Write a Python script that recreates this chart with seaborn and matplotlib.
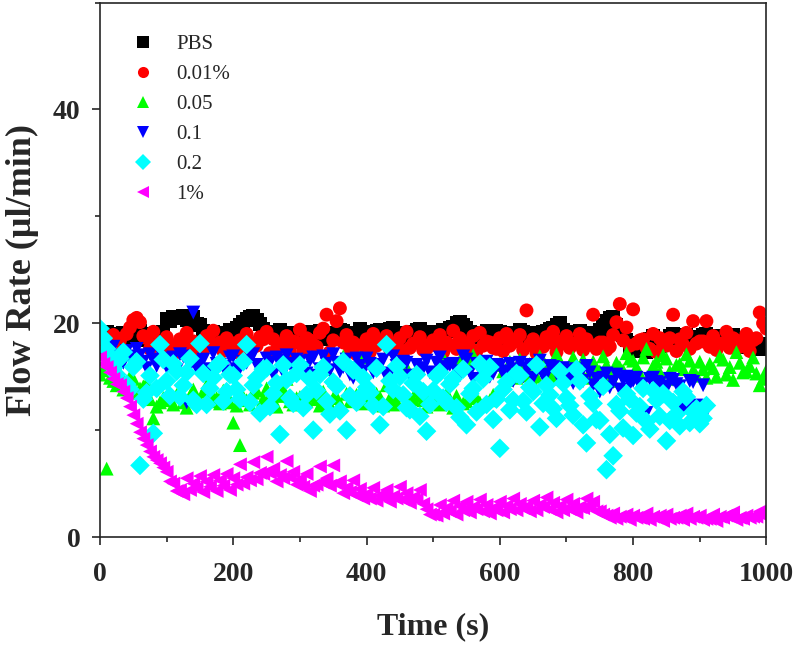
import pandas as pd
import matplotlib
matplotlib.use("Agg")
import matplotlib.pyplot as plt
from matplotlib.ticker import MultipleLocator
import seaborn as sns

sns.set_style("ticks")
plt.rcParams["font.family"] = ["Liberation Serif", "DejaVu Serif"]

# readings on the 10 s marks
time_s = [0, 10, 20, 30, 40, 50, 60, 70, 80, 90,
          100, 110, 120, 130, 140, 150, 160, 170, 180, 190,
          200, 210, 220, 230, 240, 250, 260, 270, 280, 290,
          300, 310, 320, 330, 340, 350, 360, 370, 380, 390,
          400, 410, 420, 430, 440, 450, 460, 470, 480, 490,
          500, 510, 520, 530, 540, 550, 560, 570, 580, 590,
          600, 610, 620, 630, 640, 650, 660, 670, 680, 690,
          700, 710, 720, 730, 740, 750, 760, 770, 780, 790,
          800, 810, 820, 830, 840, 850, 860, 870, 880, 890,
          900, 910, 920, 930, 940, 950, 960, 970, 980, 990, 1000]
# readings in between (x5 s)
time_b = [5, 15, 25, 35, 45, 55, 65, 75, 85, 95,
          105, 115, 125, 135, 145, 155, 165, 175, 185, 195,
          205, 215, 225, 235, 245, 255, 265, 275, 285, 295,
          305, 315, 325, 335, 345, 355, 365, 375, 385, 395,
          405, 415, 425, 435, 445, 455, 465, 475, 485, 495,
          505, 515, 525, 535, 545, 555, 565, 575, 585, 595,
          605, 615, 625, 635, 645, 655, 665, 675, 685, 695,
          705, 715, 725, 735, 745, 755, 765, 775, 785, 795,
          805, 815, 825, 835, 845, 855, 865, 875, 885, 895,
          905, 915, 925, 935, 945, 955, 965, 975, 985, 995]

labels = ["PBS", "0.01%", "0.05", "0.1", "0.2", "1%"]
colors = ["#000000", "#ff0000", "#00ff00", "#0000ff", "#00ffff", "#ff00ff"]
markers = ["s", "o", "^", "v", "D", "<"]

pbs = [18.9, 19.2, 18.4, 18.8, 19.0, 18.6, 19.3, 18.7, 18.9, 19.1,
       20.4, 20.6, 20.5, 20.3, 20.6, 19.8, 18.9, 19.2, 18.7, 19.0,
       19.3, 19.8, 20.4, 20.7, 19.9, 19.1, 18.8, 19.4, 18.6, 19.0,
       18.7, 19.2, 18.9, 19.3, 18.5, 19.0, 19.4, 18.8, 19.1, 19.5,
       19.0, 18.7, 19.4, 18.9, 19.6, 19.0, 18.6, 19.2, 19.5, 18.9,
       19.1, 18.8, 19.3, 19.7, 20.1, 19.6, 19.0, 18.7, 19.3, 18.9,
       19.2, 18.6, 19.0, 19.4, 18.8, 19.1, 18.7, 19.3, 19.6, 20.0,
       19.1, 18.8, 19.3, 18.6, 19.0, 19.4, 20.2, 20.6, 19.2, 18.4,
       17.6, 18.2, 17.3, 18.8, 17.9, 18.5, 19.0, 18.6, 18.9, 18.3,
       18.7, 19.0, 18.4, 18.8, 18.2, 18.9, 18.5, 17.8, 18.3, 17.6, 18.1]
pbs_b = [18.6, 19.0, 18.5, 19.1, 18.8, 19.3, 18.4, 19.0, 18.7, 19.2,
         20.2, 20.5, 20.7, 20.4, 19.9, 19.3, 18.8, 19.1, 18.9, 19.4,
         19.6, 20.1, 20.6, 20.3, 19.5, 18.9, 19.2, 18.7, 19.1, 18.8,
         19.0, 18.6, 19.2, 18.8, 19.1, 18.7, 19.3, 19.0, 18.6, 19.2,
         18.8, 19.3, 19.0, 19.5, 18.7, 19.1, 18.9, 19.4, 18.8, 19.2,
         18.9, 19.4, 19.6, 20.0, 19.8, 19.2, 18.9, 19.1, 18.8, 19.3,
         18.9, 19.1, 18.7, 19.2, 19.0, 18.8, 19.2, 19.5, 19.8, 19.4,
         18.9, 19.2, 18.8, 19.1, 18.7, 19.8, 20.5, 19.8, 18.9, 17.9,
         17.4, 17.9, 18.5, 17.6, 18.3, 18.8, 18.4, 18.7, 18.1, 18.6,
         18.9, 18.6, 18.2, 18.5, 18.7, 18.3, 17.9, 18.0, 17.7, 17.9]

c001 = [17.6, 18.2, 18.9, 18.4, 19.0, 20.3, 20.1, 18.6, 19.2, 18.1,
        18.7, 17.9, 18.5, 19.1, 18.3, 17.6, 18.8, 19.3, 18.2, 18.6,
        17.8, 18.4, 19.0, 18.1, 18.7, 19.2, 18.5, 17.9, 18.8, 18.3,
        19.4, 18.6, 18.0, 19.1, 20.8, 18.4, 21.4, 18.9, 18.2, 17.7,
        18.5, 19.0, 18.3, 18.8, 17.8, 18.6, 19.2, 18.1, 18.7, 17.6,
        18.4, 18.9, 18.2, 19.3, 18.6, 18.0, 18.8, 19.1, 18.3, 17.7,
        18.6, 19.0, 18.4, 18.9, 21.2, 18.5, 17.9, 18.7, 19.2, 18.3,
        18.8, 18.1, 19.0, 18.5, 20.8, 18.2, 17.5, 18.9, 21.8, 19.6,
        21.3, 18.4, 17.7, 19.0, 18.6, 17.9, 20.8, 18.5, 19.1, 20.2,
        18.3, 20.2, 18.8, 18.1, 19.2, 18.6, 17.8, 19.0, 18.4, 21.0, 19.5]
c001_b = [17.4, 17.9, 18.6, 17.5, 19.6, 20.5, 18.8, 17.6, 18.0, 17.2,
          17.6, 17.3, 18.2, 17.8, 17.1, 17.5, 18.3, 17.9, 17.4, 18.2,
          17.3, 18.0, 17.6, 17.9, 18.5, 17.2, 17.5, 18.1, 17.3, 18.2,
          17.5, 18.4, 17.8, 19.5, 17.3, 20.2, 18.2, 17.7, 17.1, 18.0,
          17.3, 17.9, 18.3, 17.6, 18.1, 17.4, 17.7, 18.2, 17.5, 18.0,
          17.9, 17.3, 18.0, 17.6, 18.2, 17.7, 17.4, 17.9, 18.2, 17.6,
          17.4, 17.9, 18.3, 17.5, 18.0, 17.2, 17.8, 18.2, 17.3, 18.1,
          17.7, 18.1, 17.5, 18.0, 17.6, 18.2, 17.8, 20.1, 18.4, 17.9,
          18.1, 18.5, 17.6, 17.3, 18.1, 18.6, 17.4, 18.0, 17.6, 18.1,
          18.3, 17.8, 17.5, 18.1, 17.7, 18.4, 17.9, 17.4, 18.6, 20.0]

c005 = [15.2, 6.4, 14.6, 15.3, 14.1, 14.8, 13.9, 14.4, 11.1, 12.6,
        13.2, 12.4, 13.6, 12.1, 13.8, 12.7, 14.2, 13.1, 12.5, 13.4,
        10.7, 8.6, 12.8, 13.5, 12.2, 13.9, 12.6, 13.2, 14.8, 12.4,
        13.1, 12.7, 13.6, 12.3, 15.7, 13.0, 12.5, 13.4, 12.8, 16.8,
        13.3, 12.6, 13.1, 14.2, 12.4, 13.5, 15.9, 12.9, 13.2, 12.2,
        13.0, 12.4, 13.4, 12.1, 16.5, 12.7, 17.0, 12.6, 15.8, 13.3,
        16.2, 14.7, 15.4, 16.6, 15.1, 14.4, 16.9, 15.6, 14.8, 16.3,
        15.2, 16.8, 15.7, 14.9, 16.4, 15.5, 16.1, 14.6, 15.9, 17.2,
        16.5, 15.3, 17.6, 16.0, 15.4, 16.7, 14.8, 16.2, 17.1, 15.6,
        16.4, 14.9, 15.8, 16.9, 15.2, 14.7, 16.3, 15.5, 16.8, 14.2, 15.6]
c005_b = [15.6, 14.9, 14.2, 13.8, 15.0, 13.5, 14.1, 12.9, 12.2, 13.0,
          12.8, 13.3, 12.6, 13.2, 12.9, 13.6, 12.7, 13.0, 13.7, 12.6,
          12.3, 13.1, 12.4, 13.7, 12.9, 13.3, 12.2, 13.8, 12.7, 13.0,
          12.6, 13.2, 12.9, 13.6, 12.4, 13.1, 16.9, 12.7, 13.3, 12.5,
          12.9, 13.4, 12.3, 13.0, 12.7, 13.3, 12.5, 13.7, 12.8, 13.1,
          12.6, 16.8, 12.9, 13.2, 12.5, 16.4, 13.0, 15.4, 12.8, 16.1,
          15.5, 16.4, 14.9, 15.8, 16.2, 15.0, 16.5, 15.3, 17.1, 15.7,
          16.0, 15.1, 16.6, 15.4, 15.8, 16.9, 15.2, 16.3, 15.6, 16.7,
          15.9, 16.8, 15.2, 16.4, 17.0, 15.5, 16.1, 15.7, 16.5, 15.1,
          15.7, 16.2, 15.0, 16.6, 15.9, 17.3, 15.4, 16.0, 15.3, 14.8]

c01 = [17.2, 16.5, 17.8, 16.9, 17.4, 16.2, 17.0, 15.8, 16.6, 17.3,
       15.9, 16.8, 17.1, 12.6, 21.0, 16.4, 15.7, 17.2, 16.1, 15.5,
       16.9, 15.8, 16.3, 17.1, 15.6, 16.7, 15.2, 16.5, 17.0, 15.9,
       16.4, 15.3, 16.8, 15.7, 16.2, 17.1, 15.5, 16.6, 14.9, 16.0,
       16.7, 15.4, 16.1, 15.0, 16.9, 15.8, 16.3, 14.7, 15.6, 16.5,
       15.2, 16.8, 15.9, 16.2, 15.1, 16.6, 14.8, 15.7, 16.4, 15.3,
       16.0, 15.5, 14.6, 16.3, 15.8, 14.9, 16.5, 15.2, 15.9, 14.7,
       15.6, 14.4, 15.1, 16.0, 14.2, 13.6, 15.3, 14.5, 13.8, 15.0,
       14.6, 14.2, 11.6, 14.9, 14.4, 13.9, 14.7, 14.1, 12.1, 14.5,
       12.0, 11.8]
c01_b = [16.8, 17.5, 17.0, 16.3, 16.9, 17.6, 16.4, 17.1, 16.0, 16.7,
         16.3, 15.6, 16.9, 16.0, 15.8, 16.6, 15.4, 16.2, 15.9, 16.8,
         15.7, 16.4, 17.0, 16.1, 15.5, 16.3, 16.8, 15.4, 16.2, 16.6,
         15.8, 16.5, 15.1, 16.9, 15.6, 16.3, 15.9, 15.2, 16.7, 15.5,
         16.2, 15.7, 16.6, 15.3, 16.0, 16.4, 15.1, 16.1, 15.8, 15.4,
         16.3, 15.6, 16.1, 15.5, 16.9, 15.4, 16.2, 15.9, 15.0, 16.1,
         15.3, 16.2, 15.7, 15.0, 16.1, 15.6, 15.1, 16.0, 15.4, 15.8,
         15.0, 15.7, 14.6, 15.4, 14.8, 14.9, 14.0, 15.2, 14.7, 14.3,
         14.9, 14.3, 14.8, 14.5, 14.1, 14.8, 14.3, 12.0, 14.6, 12.3,
         14.2]

c02 = [19.5, 17.6, 15.8, 16.7, 14.3, 15.9, 6.7, 13.5, 9.7, 18.0,
       14.6, 16.2, 13.1, 15.4, 12.8, 18.1, 12.4, 14.9, 16.3, 13.6,
       15.1, 12.9, 18.0, 14.2, 11.6, 15.8, 13.4, 9.6, 14.7, 12.5,
       16.1, 13.3, 10.0, 15.2, 12.7, 14.5, 11.8, 10.0, 15.6, 13.1,
       14.0, 12.3, 10.5, 18.0, 13.8, 15.0, 12.1, 14.4, 11.3, 9.9,
       13.7, 15.4, 12.6, 14.8, 11.2, 10.5, 13.9, 16.2, 12.4, 11.0,
       8.3, 14.5, 12.8, 15.1, 11.7, 13.6, 10.3, 14.2, 12.0, 15.5,
       13.0, 11.4, 14.6, 8.8, 12.5, 10.9, 6.3, 7.6, 11.8, 13.4,
       9.5, 12.2, 10.8, 13.7, 11.3, 9.0, 12.6, 10.4, 13.1, 11.7,
       10.6, 12.3]
c02_b = [18.6, 16.9, 15.2, 17.3, 13.8, 16.4, 12.9, 15.1, 13.9, 16.6,
         13.2, 15.5, 14.2, 16.7, 12.4, 15.3, 13.9, 16.0, 12.7, 15.2,
         13.8, 16.4, 12.6, 14.9, 15.7, 12.2, 14.4, 16.1, 13.0, 15.3,
         12.1, 14.8, 13.7, 15.9, 11.5, 14.1, 16.4, 13.2, 12.6, 14.9,
         13.5, 15.8, 12.2, 14.6, 16.0, 13.3, 11.9, 15.2, 13.6, 12.4,
         15.1, 13.0, 14.3, 12.1, 15.7, 13.4, 11.7, 14.8, 15.9, 12.9,
         13.8, 11.9, 15.3, 12.7, 14.0, 16.1, 12.5, 13.3, 11.1, 14.4,
         12.3, 15.7, 10.5, 13.2, 11.0, 14.1, 9.6, 12.4, 10.2, 12.9,
         11.6, 13.9, 10.1, 12.8, 13.4, 10.9, 11.5, 13.6, 10.7, 12.0,
         11.1]

c1 = [16.8, 15.9, 14.8, 14.2, 13.0, 11.4, 9.8, 8.6, 7.5, 6.9,
      6.1, 5.0, 4.4, 5.5, 5.0, 5.7, 5.2, 5.8, 5.3, 5.9,
      5.5, 6.8, 5.6, 7.0, 6.0, 7.5, 6.4, 5.8, 7.1, 6.1,
      5.4, 5.9, 4.8, 6.6, 5.5, 6.7, 5.2, 4.6, 5.3, 4.5,
      4.0, 4.6, 3.9, 4.4, 3.8, 4.7, 4.1, 3.7, 4.4, 2.6,
      2.1, 3.0, 2.7, 3.4, 2.9, 3.3, 2.8, 3.5, 3.0, 2.7,
      3.3, 2.9, 3.6, 3.1, 2.8, 3.4, 3.0, 3.7, 3.2, 2.9,
      3.5, 3.1, 2.8, 3.6, 3.3, 2.4, 2.0, 2.2, 1.9, 2.1,
      2.0, 1.8, 2.2, 1.9, 2.0, 2.1, 1.8, 2.0, 2.2, 1.9,
      2.0, 1.7, 2.1, 1.9, 2.0, 2.3, 1.8, 2.0, 1.9, 2.4, 2.0]
c1_b = [16.2, 15.4, 14.3, 13.6, 12.2, 10.6, 9.2, 8.0, 7.2, 6.5,
        5.2, 4.3, 4.0, 4.4, 4.6, 4.2, 4.7, 4.3, 4.8, 4.4,
        4.9, 5.0, 5.3, 5.4, 5.9, 6.0, 5.2, 5.5, 5.6, 4.9,
        4.7, 4.3, 4.9, 5.1, 4.8, 5.0, 4.1, 4.2, 3.9, 3.6,
        3.6, 3.4, 3.7, 3.3, 3.6, 3.5, 3.2, 3.5, 3.1, 2.1,
        2.0, 2.2, 2.4, 2.1, 2.5, 2.3, 2.6, 2.4, 2.2, 2.5,
        2.3, 2.6, 2.5, 2.7, 2.4, 2.5, 2.8, 2.6, 2.3, 2.5,
        2.6, 2.3, 2.7, 2.8, 2.4, 2.1, 1.8, 1.7, 1.9, 1.6,
        1.8, 1.7, 1.6, 1.8, 1.5, 1.7, 1.8, 1.6, 1.7, 1.8,
        1.6, 1.7, 1.5, 1.8, 1.9, 1.6, 1.7, 1.8, 1.9, 2.0]

series = [(pbs, pbs_b), (c001, c001_b), (c005, c005_b),
          (c01, c01_b), (c02, c02_b), (c1, c1_b)]

frames = []
for lab, (a, b) in zip(labels, series):
    part = pd.DataFrame({"time": time_s[:len(a)] + time_b[:len(b)],
                         "rate": a + b, "group": lab})
    frames.append(part.sort_values("time"))
df = pd.concat(frames, ignore_index=True)

fig = plt.figure(figsize=(8, 6.47), dpi=100)
ax = fig.add_axes([0.125, 0.17, 0.833, 0.826])

sns.scatterplot(data=df, x="time", y="rate", hue="group", style="group",
                palette=dict(zip(labels, colors)), markers=dict(zip(labels, markers)),
                hue_order=labels, style_order=labels,
                s=100, linewidth=0, ax=ax)

ax.set_xlim(0, 1000)
ax.set_ylim(0, 50)
ax.xaxis.set_major_locator(MultipleLocator(200))
ax.xaxis.set_minor_locator(MultipleLocator(100))
ax.yaxis.set_major_locator(MultipleLocator(20))
ax.yaxis.set_minor_locator(MultipleLocator(10))
ax.tick_params(which="major", direction="out", length=6, width=1.2)
ax.tick_params(which="minor", direction="out", length=3.5, width=1.2)
ax.tick_params(axis="x", which="major", pad=12)
ax.tick_params(axis="y", which="major", pad=8)
for lbl in ax.get_xticklabels() + ax.get_yticklabels():
    lbl.set_fontsize(20)
    lbl.set_fontweight("bold")
for sp in ax.spines.values():
    sp.set_linewidth(1.2)
    sp.set_visible(True)

ax.set_xlabel("Time (s)", fontsize=23, fontweight="bold", labelpad=18)
ax.set_ylabel("Flow Rate (\u00b5l/min)", fontsize=26, fontweight="bold", labelpad=10)

handles, labs = ax.get_legend_handles_labels()
ax.legend(handles, labs, loc="upper left", bbox_to_anchor=(0.005, 0.975),
          frameon=False, fontsize=15, markerscale=0.8,
          labelspacing=0.5, handletextpad=0.6)

fig.savefig("out.png", dpi=100)
